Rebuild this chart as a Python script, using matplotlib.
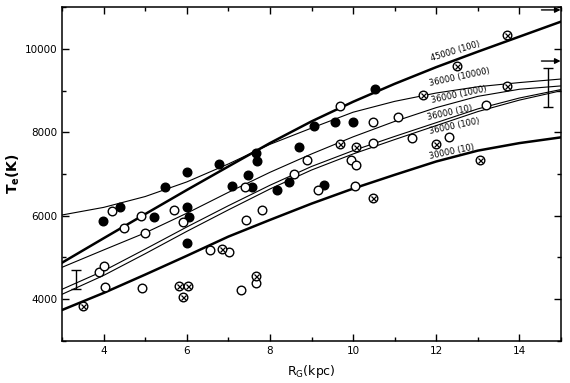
import matplotlib.pyplot as plt
import numpy as np

# model curves, read at every kpc
rg = [3, 4, 5, 6, 7, 8, 9, 10, 11, 12, 13, 14, 15]
te_45000_100 = [4875, 5460, 6040, 6616, 7180, 7740, 8260, 8730, 9160, 9560, 9930, 10290, 10650]
te_36000_10000 = [6018, 6200, 6460, 6810, 7240, 7710, 8100, 8480, 8740, 8940, 9090, 9190, 9275]
te_36000_1000 = [4765, 5180, 5590, 6060, 6560, 7040, 7480, 7890, 8260, 8590, 8860, 9030, 9110]
te_36000_10 = [4238, 4680, 5200, 5730, 6240, 6730, 7180, 7560, 7900, 8230, 8560, 8820, 9023]
te_36000_100 = [4118, 4570, 5090, 5625, 6140, 6640, 7095, 7480, 7825, 8160, 8495, 8770, 8994]
te_30000_10 = [3742, 4150, 4590, 5040, 5500, 5900, 6290, 6650, 6980, 7300, 7560, 7740, 7878]

# observed HII regions
filled_rg = [3.99, 4.39, 5.21, 5.48, 6.0, 6.0, 6.05, 6.01, 6.77, 7.09, 7.48, 7.57,
             7.66, 7.68, 8.18, 8.46, 8.70, 9.06, 9.29, 9.56, 9.99, 10.52]
filled_te = [5870, 6200, 5980, 6680, 7040, 6210, 5980, 5340, 7245, 6715, 6965, 6680,
             7505, 7300, 6625, 6805, 7655, 8160, 6745, 8235, 8245, 9030]

open_rg = [3.90, 4.02, 4.03, 4.21, 4.50, 4.91, 4.92, 5.00, 5.69, 5.91, 6.56, 7.01,
           7.30, 7.40, 7.42, 7.67, 7.80, 8.58, 8.88, 9.16, 9.68, 9.96, 10.08, 10.04,
           10.48, 10.48, 11.09, 11.42, 12.30, 13.19]
open_te = [4655, 4795, 4285, 6115, 5718, 5998, 4262, 5598, 6134, 5840, 5176, 5131,
           4214, 6680, 5902, 4385, 6137, 6988, 7335, 6608, 8632, 7343, 7207, 6716,
           8237, 7732, 8372, 7869, 7893, 8652]

cross_rg = [3.51, 5.81, 5.90, 6.02, 6.84, 7.67, 9.68, 10.08, 10.48, 11.69, 11.99,
            12.49, 13.06, 13.69, 13.71]
cross_te = [3845, 4310, 4046, 4310, 5203, 4564, 7718, 7654, 6420, 8892, 7725,
            9586, 7325, 10336, 9107]

# typical error bars
err_rg = [3.34, 14.68]
err_te = [4470, 9065]
err_dte = [230, 465]

curve_labels = ["45000 (100)", "36000 (10000)", "36000 (1000)",
                "36000 (10)", "36000 (100)", "30000 (10)"]

plt.rcParams['font.family'] = ['DejaVu Sans']

fig = plt.figure(figsize=(5.7, 3.83), dpi=100)
ax = fig.add_axes([0.1088, 0.1097, 0.8754, 0.872])

ax.plot(rg, te_45000_100, color='k', lw=1.8)
ax.plot(rg, te_36000_10000, color='k', lw=0.8)
ax.plot(rg, te_36000_1000, color='k', lw=0.8)
ax.plot(rg, te_36000_10, color='k', lw=0.8)
ax.plot(rg, te_36000_100, color='k', lw=0.8)
ax.plot(rg, te_30000_10, color='k', lw=1.8)

ax.plot(filled_rg, filled_te, 'o', color='k', ms=6.2, ls='none')
ax.plot(open_rg, open_te, 'o', mfc='white', mec='k', mew=1.0, ms=6.2, ls='none')
ax.plot(cross_rg, cross_te, 'o', mfc='white', mec='k', mew=1.0, ms=6.2, ls='none')
ax.plot(cross_rg, cross_te, 'x', color='k', mew=0.9, ms=3.6, ls='none')

ax.errorbar(err_rg, err_te, yerr=err_dte, fmt='none', ecolor='k',
            elinewidth=1.0, capsize=3.5, capthick=1.0)

# arrows at the right edge
for yy in [10930, 9706]:
    ax.annotate('', xy=(14.99, yy), xytext=(14.53, yy),
                arrowprops=dict(arrowstyle='-|>', color='k', lw=1.0,
                                mutation_scale=8, shrinkA=0, shrinkB=0))

# curve labels
label_pos = [(11.89, 9700, 17), (11.85, 9110, 12), (11.89, 8710, 12),
             (11.80, 8300, 12), (11.85, 7960, 12), (11.85, 7350, 12)]
for text, (lx, ly, rot) in zip(curve_labels, label_pos):
    ax.text(lx, ly, text, fontsize=6, rotation=rot, rotation_mode='anchor',
            ha='left', va='baseline')

ax.set_xlim(3, 15)
ax.set_ylim(3000, 11000)
ax.set_xticks([4, 6, 8, 10, 12, 14])
ax.set_xticks([3, 5, 7, 9, 11, 13, 15], minor=True)
ax.set_yticks([4000, 6000, 8000, 10000])
ax.set_yticks([3000, 5000, 7000, 9000, 11000], minor=True)
ax.tick_params(which='both', direction='in', top=True, right=True,
               labelsize=7.5, width=1.0)
ax.tick_params(which='major', length=5)
ax.tick_params(which='minor', length=3)
for s in ax.spines.values():
    s.set_linewidth(1.1)

ax.set_xlabel(r'R$_\mathregular{G}$(kpc)', fontsize=9, labelpad=5)
ax.set_ylabel(r'T$_\mathregular{e}$(K)', fontsize=10, fontweight='bold', labelpad=2)

fig.savefig('out.png', dpi=100)
